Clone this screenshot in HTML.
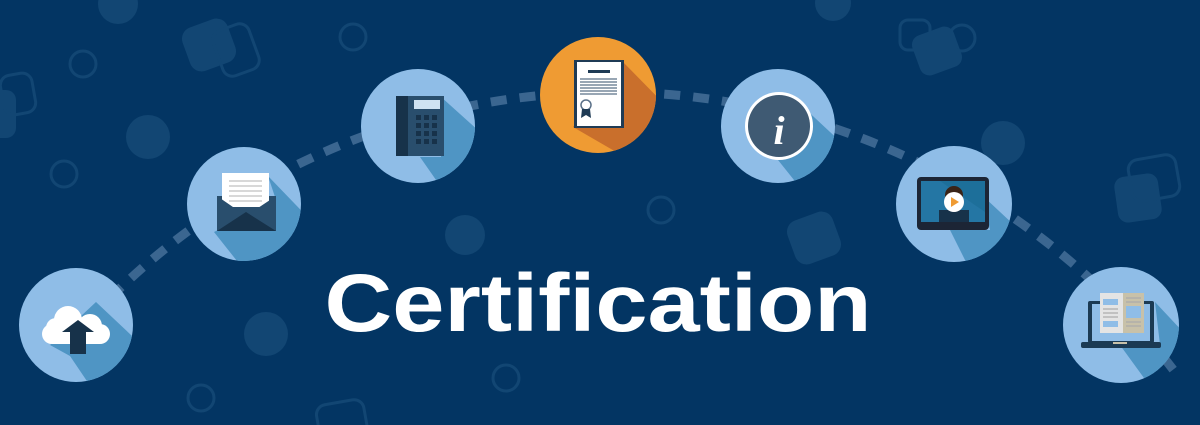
<!DOCTYPE html>
<html><head><meta charset="utf-8"><style>
html,body{margin:0;padding:0;background:#033563;}
svg{display:block}
</style></head><body>
<svg width="1200" height="425" viewBox="0 0 1200 425" xmlns="http://www.w3.org/2000/svg">
<rect width="1200" height="425" fill="#033563"/>
<!-- background decor -->
<g fill="#124673">
<circle cx="118" cy="4" r="20"/><circle cx="148" cy="137" r="22"/><circle cx="266" cy="334" r="22"/>
<circle cx="465" cy="235" r="20"/><circle cx="1003" cy="143" r="22"/><circle cx="833" cy="3" r="18"/>
<rect x="185" y="22" width="48" height="46" rx="12" transform="rotate(-20 209 45)"/>
<rect x="-10" y="90" width="26" height="48" rx="10"/>
<rect x="915" y="30" width="44" height="42" rx="10" transform="rotate(-20 937 51)"/>
<rect x="1116" y="175" width="44" height="46" rx="10" transform="rotate(-8 1138 198)"/>
<rect x="790" y="215" width="48" height="46" rx="12" transform="rotate(-20 814 238)"/>
</g>
<g fill="none" stroke="#124673" stroke-width="3">
<circle cx="83" cy="64" r="13"/><circle cx="64" cy="174" r="13"/><circle cx="353" cy="37" r="13"/>
<circle cx="661" cy="210" r="13"/><circle cx="201" cy="398" r="13"/><circle cx="506" cy="378" r="13"/>
<circle cx="962" cy="38" r="13"/><circle cx="1178" cy="370" r="0"/>
<rect x="217" y="26" width="38" height="48" rx="10" transform="rotate(-20 236 50)"/>
<rect x="2" y="74" width="32" height="40" rx="10" transform="rotate(-10 18 94)"/>
<rect x="1130" y="157" width="48" height="42" rx="10" transform="rotate(-10 1154 178)"/>
<rect x="318" y="402" width="48" height="40" rx="10" transform="rotate(-10 342 422)"/>
<rect x="900" y="20" width="30" height="30" rx="8"/>
</g>
<!-- dashed arc -->
<path d="M 110 298 A 710 710 0 0 1 1175 372" fill="none" stroke="#3b6690" stroke-width="9" stroke-dasharray="16 13"/>
<defs>
<clipPath id="c1"><circle cx="76" cy="325" r="57"/></clipPath>
<clipPath id="c2"><circle cx="244" cy="204" r="57"/></clipPath>
<clipPath id="c3"><circle cx="418" cy="126" r="57"/></clipPath>
<clipPath id="c4"><circle cx="598" cy="95" r="58"/></clipPath>
<clipPath id="c5"><circle cx="778" cy="126" r="57"/></clipPath>
<clipPath id="c6"><circle cx="954" cy="204" r="58"/></clipPath>
<clipPath id="c7"><circle cx="1121" cy="325" r="58"/></clipPath>
</defs>
<!-- cloud -->
<circle cx="76" cy="325" r="57" fill="#8fbde7"/>
<polygon clip-path="url(#c1)" points="96,302 200,400 120,430 70,356 50,345" fill="#4f95c4"/>
<g fill="#fff"><circle cx="68" cy="320" r="14"/><circle cx="56" cy="328" r="10"/><circle cx="90" cy="326" r="12"/><rect x="42" y="324" width="68" height="20" rx="10"/></g>
<polygon points="62,332 78,320 94,332 86,332 86,354 70,354 70,332" fill="#17324a"/>
<!-- envelope -->
<circle cx="244" cy="204" r="57" fill="#8fbde7"/>
<polygon clip-path="url(#c2)" points="268,176 320,230 260,290 214,232 276,200" fill="#4f95c4"/>
<rect x="217" y="196" width="59" height="35" fill="#294e6d"/>
<rect x="222" y="173" width="47" height="34" fill="#fff"/>
<g stroke="#ccc" stroke-width="1.5"><line x1="229" y1="181" x2="262" y2="181"/><line x1="229" y1="186" x2="262" y2="186"/><line x1="229" y1="191" x2="262" y2="191"/><line x1="229" y1="196" x2="262" y2="196"/><line x1="229" y1="201" x2="262" y2="201"/></g>
<polygon points="217,196 246,216 276,196 276,231 217,231" fill="#294e6d"/>
<polygon points="217,231 246,212 276,231" fill="#17324a"/>
<!-- phone -->
<circle cx="418" cy="126" r="57" fill="#8fbde7"/>
<polygon clip-path="url(#c3)" points="440,96 500,150 450,200 420,157 441,157" fill="#4f95c4"/>
<rect x="396" y="96" width="48" height="60" fill="#294e6d"/>
<rect x="396" y="96" width="12" height="60" fill="#17324a"/>
<rect x="414" y="100" width="26" height="9" fill="#cfe3f3"/>
<g fill="#17324a"><rect x="416" y="115" width="5" height="5"/><rect x="424" y="115" width="5" height="5"/><rect x="432" y="115" width="5" height="5"/><rect x="416" y="123" width="5" height="5"/><rect x="424" y="123" width="5" height="5"/><rect x="432" y="123" width="5" height="5"/><rect x="416" y="131" width="5" height="5"/><rect x="424" y="131" width="5" height="5"/><rect x="432" y="131" width="5" height="5"/><rect x="416" y="139" width="5" height="5"/><rect x="424" y="139" width="5" height="5"/><rect x="432" y="139" width="5" height="5"/></g>
<!-- certificate -->
<circle cx="598" cy="95" r="58" fill="#ef9b33"/>
<polygon clip-path="url(#c4)" points="623,62 680,120 630,160 573,127" fill="#c96f2c"/>
<rect x="574" y="60" width="50" height="68" fill="#1f3b55"/>
<rect x="577" y="62" width="44" height="64" fill="#fff"/>
<rect x="588" y="70" width="22" height="3" fill="#1f3b55"/>
<g stroke="#5a7088" stroke-width="1.3"><line x1="580" y1="79" x2="617" y2="79"/><line x1="580" y1="82" x2="617" y2="82"/><line x1="580" y1="85" x2="617" y2="85"/><line x1="580" y1="88" x2="617" y2="88"/><line x1="580" y1="91" x2="617" y2="91"/><line x1="580" y1="94" x2="617" y2="94"/></g>
<circle cx="586" cy="105" r="5" fill="none" stroke="#5a7088" stroke-width="1.5"/>
<polygon points="582,109 590,109 591,118 586,115 581,118" fill="#1f3b55"/>
<!-- info -->
<circle cx="778" cy="126" r="57" fill="#8fbde7"/>
<polygon clip-path="url(#c5)" points="800,104 860,160 810,200 778,160" fill="#4f95c4"/>
<circle cx="779" cy="126" r="34" fill="#fff"/>
<circle cx="779" cy="126" r="31" fill="#3f5a73"/>
<text x="779" y="144" text-anchor="middle" font-family="Liberation Serif, serif" font-style="italic" font-weight="bold" font-size="40" fill="#fff">i</text>
<!-- video -->
<circle cx="954" cy="204" r="58" fill="#8fbde7"/>
<polygon clip-path="url(#c6)" points="984,197 1030,240 980,290 950,230 990,230" fill="#4f95c4"/>
<rect x="917" y="177" width="72" height="53" rx="4" fill="#1c2535"/>
<rect x="921" y="181" width="64" height="41" fill="#1d6f9a"/>
<polygon points="921,181 940,181 985,212 985,222 921,222" fill="#2a7bab" opacity="0.6"/>
<rect x="939" y="210" width="30" height="12" fill="#17324a"/>
<circle cx="954" cy="195" r="9" fill="#3a2418"/>
<circle cx="954" cy="202" r="10" fill="#fff"/>
<polygon points="951,197 951,207 959,202" fill="#ef9b33"/>
<!-- laptop -->
<circle cx="1121" cy="325" r="58" fill="#8fbde7"/>
<polygon clip-path="url(#c7)" points="1155,302 1200,350 1160,400 1120,345 1160,345" fill="#4f95c4"/>
<rect x="1088" y="301" width="66" height="42" rx="2" fill="#1b3a53"/>
<rect x="1092" y="304" width="58" height="37" fill="#8fbde7"/>
<rect x="1081" y="342" width="80" height="6" rx="2" fill="#1b3a53"/>
<rect x="1113" y="342" width="14" height="2" fill="#c8c1a9"/>
<rect x="1100" y="293" width="23" height="40" fill="#e4e4e4"/>
<rect x="1123" y="293" width="21" height="40" fill="#c8c1a9"/>
<rect x="1103" y="299" width="15" height="6" fill="#8fbde7"/>
<rect x="1103" y="321" width="15" height="6" fill="#8fbde7"/>
<g stroke="#aaa" stroke-width="1.2"><line x1="1103" y1="309" x2="1118" y2="309"/><line x1="1103" y1="313" x2="1118" y2="313"/><line x1="1103" y1="317" x2="1118" y2="317"/><line x1="1126" y1="298" x2="1141" y2="298"/><line x1="1126" y1="302" x2="1141" y2="302"/><line x1="1126" y1="322" x2="1141" y2="322"/><line x1="1126" y1="326" x2="1141" y2="326"/></g>
<rect x="1126" y="306" width="15" height="12" fill="#8fbde7"/>
<!-- title -->
<text x="598" y="331" text-anchor="middle" font-family="Liberation Sans, sans-serif" font-weight="bold" font-size="82" fill="#fff" textLength="547" lengthAdjust="spacingAndGlyphs">Certification</text>
</svg>
</body></html>
